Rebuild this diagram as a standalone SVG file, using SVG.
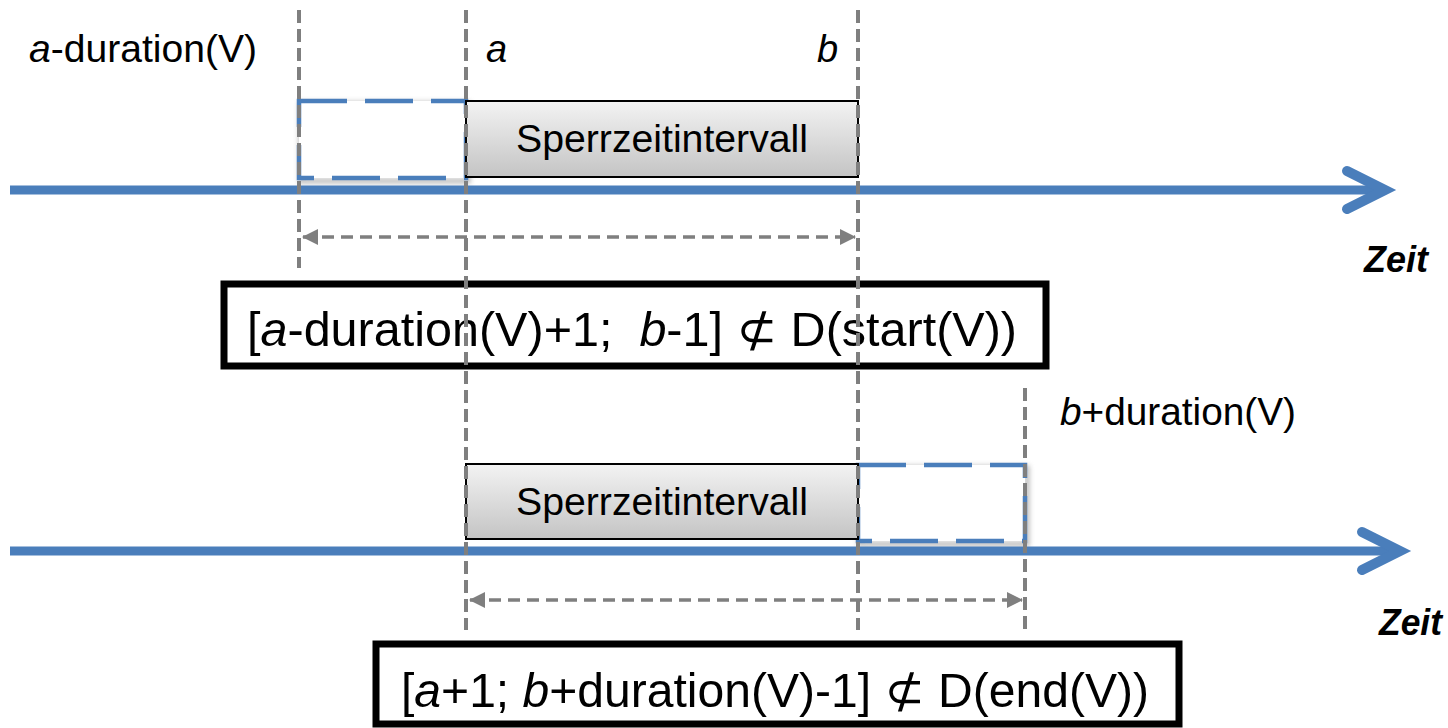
<svg xmlns="http://www.w3.org/2000/svg" width="1448" height="728" viewBox="0 0 1448 728">
  <style>
    text { font-family: "Liberation Sans", "DejaVu Sans", sans-serif; fill: #000; white-space: pre; }
    .lbl { font-size: 38px; }
    .frm { font-size: 48px; }
    .it { font-style: italic; }
    .zeit { font-size: 36px; font-weight: bold; font-style: italic; }
    .axis { stroke: #4a7ebb; stroke-width: 9; fill: none; }
    .head { stroke: #4a7ebb; stroke-width: 10; fill: none; stroke-linecap: round; stroke-linejoin: miter; }
    .guide { stroke: #7f7f7f; stroke-width: 4; stroke-dasharray: 13 6; fill: none; }
    .dim { stroke: #7f7f7f; stroke-width: 3.5; stroke-dasharray: 12 7; fill: none; }
    .slot { fill: #fff; stroke: #4a7ebb; stroke-width: 4.5; stroke-dasharray: 48 18; }
    .slot-shadow { fill: none; stroke: #8c8c8c; stroke-width: 5; opacity: 0.6; }
    .block { fill: url(#blockFill); stroke: #000; stroke-width: 2; }
    .frame { fill: #fff; stroke: #000; stroke-width: 7; }
  </style>
  <defs>
    <linearGradient id="blockFill" x1="0" y1="0" x2="0" y2="1">
      <stop offset="0" stop-color="#f3f3f3"/>
      <stop offset="1" stop-color="#c4c4c4"/>
    </linearGradient>
    <filter id="soft" x="-10%" y="-20%" width="120%" height="140%">
      <feGaussianBlur stdDeviation="2.5"/>
    </filter>
    <marker id="dimHead" viewBox="0 0 16 16" refX="15" refY="8" markerWidth="16" markerHeight="16" markerUnits="userSpaceOnUse" orient="auto-start-reverse">
      <path d="M0,0 L16,8 L0,16 Z" fill="#7f7f7f"/>
    </marker>
  </defs>

  <rect width="1448" height="728" fill="#fff"/>

  <!-- upper timeline -->
  <g id="slot-before">
    <rect class="slot-shadow" x="301" y="104" width="167" height="77" filter="url(#soft)"/>
    <rect class="slot" x="299" y="101" width="167" height="77"/>
  </g>
  <g id="block-top">
    <rect class="block" x="466" y="101" width="392" height="76"/>
    <text class="lbl" x="662" y="152" text-anchor="middle" textLength="292" lengthAdjust="spacingAndGlyphs">Sperrzeitintervall</text>
  </g>

  <!-- lower timeline -->
  <g id="slot-after">
    <rect class="slot-shadow" x="860" y="468" width="167" height="76" filter="url(#soft)"/>
    <rect class="slot" x="858" y="465" width="167" height="76"/>
  </g>
  <g id="block-bottom">
    <rect class="block" x="466" y="464" width="392" height="75"/>
    <text class="lbl" x="662" y="515" text-anchor="middle" textLength="292" lengthAdjust="spacingAndGlyphs">Sperrzeitintervall</text>
  </g>

  <!-- formula boxes -->
  <g id="formula-start">
    <rect class="frame" x="224" y="284" width="822" height="82"/>
    <text class="frm" x="247" y="346" textLength="770" lengthAdjust="spacingAndGlyphs">[<tspan class="it">a</tspan>-duration(V)+1;  <tspan class="it">b</tspan>-1] ⊄ D(start(V))</text>
  </g>
  <g id="formula-end">
    <rect class="frame" x="376" y="644" width="803" height="80"/>
    <text class="frm" x="401" y="707" textLength="748" lengthAdjust="spacingAndGlyphs">[<tspan class="it">a</tspan>+1; <tspan class="it">b</tspan>+duration(V)-1] ⊄ D(end(V))</text>
  </g>

  <!-- labels -->
  <g id="labels">
    <text class="lbl" x="29" y="62" textLength="228" lengthAdjust="spacingAndGlyphs"><tspan class="it">a</tspan>-duration(V)</text>
    <text class="lbl it" x="486" y="62">a</text>
    <text class="lbl it" x="817" y="62">b</text>
    <text class="lbl" x="1060" y="425" textLength="236" lengthAdjust="spacingAndGlyphs"><tspan class="it">b</tspan>+duration(V)</text>
    <text class="zeit" x="1364" y="272" textLength="64" lengthAdjust="spacingAndGlyphs">Zeit</text>
    <text class="zeit" x="1379" y="635" textLength="63" lengthAdjust="spacingAndGlyphs">Zeit</text>
  </g>

  <!-- time axes, span arrows and guide lines -->
  <g id="connectors">
    <line class="axis" x1="10" y1="190" x2="1380" y2="190"/>
    <polyline class="head" points="1347,171 1385,190 1347,209"/>
    <line class="axis" x1="10" y1="551" x2="1395" y2="551"/>
    <polyline class="head" points="1362,532 1400,551 1362,570"/>

    <line class="dim" x1="303" y1="237" x2="855" y2="237" marker-start="url(#dimHead)" marker-end="url(#dimHead)"/>
    <line class="dim" x1="470" y1="600" x2="1022" y2="600" marker-start="url(#dimHead)" marker-end="url(#dimHead)"/>

    <line class="guide" x1="299" y1="10" x2="299" y2="268"/>
    <line class="guide" x1="466" y1="10" x2="466" y2="630"/>
    <line class="guide" x1="858" y1="10" x2="858" y2="630"/>
    <line class="guide" x1="1025" y1="388" x2="1025" y2="630"/>
  </g>
</svg>
